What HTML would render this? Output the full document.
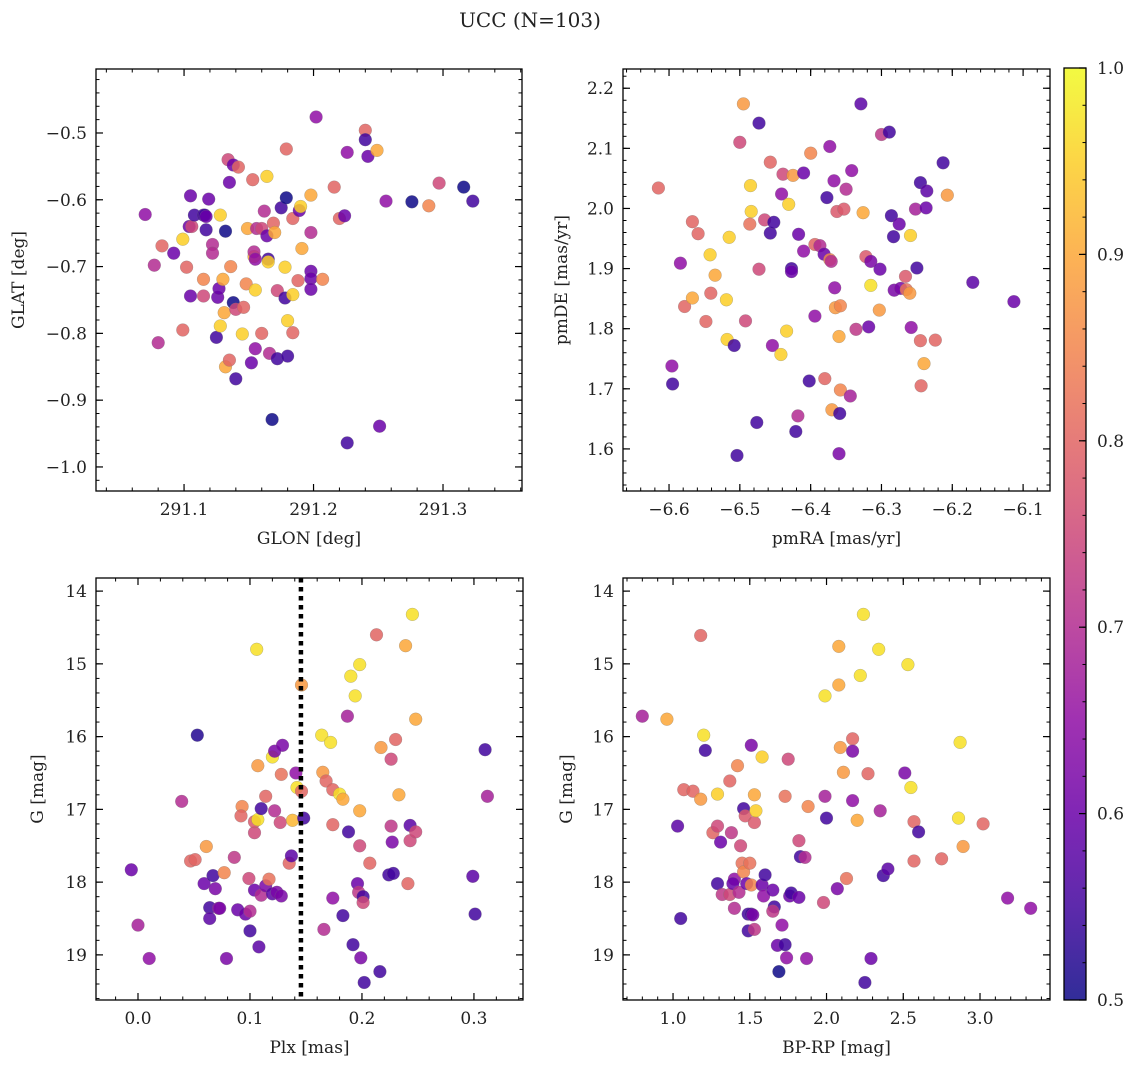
<!DOCTYPE html>
<html><head><meta charset="utf-8">
<style>
html,body{margin:0;padding:0;background:#fff;}
svg text{font-family:"DejaVu Serif","Liberation Serif",serif;fill:#222;}
</style></head>
<body>
<svg id="fig" width="1136" height="1068" viewBox="0 0 1136 1068" xmlns="http://www.w3.org/2000/svg">
<text x="530" y="27" font-size="20" text-anchor="middle">UCC (N=103)</text>
</svg>
<script>
const glonGlat = [
[291.070,-0.622,.65],[291.077,-0.698,.7],[291.080,-0.814,.7],[291.083,-0.669,.8],[291.092,-0.680,.6],[291.099,-0.659,.95],[291.099,-0.795,.8],[291.102,-0.701,.8],[291.105,-0.744,.6],[291.105,-0.594,.6],[291.104,-0.640,.6],[291.106,-0.640,.75],[291.108,-0.623,.55],[291.115,-0.623,.55],[291.116,-0.623,.55],[291.117,-0.625,.6],[291.117,-0.645,.55],[291.115,-0.719,.85],[291.115,-0.744,.75],[291.119,-0.599,.6],[291.122,-0.667,.7],[291.122,-0.680,.7],[291.125,-0.806,.55],[291.126,-0.746,.6],[291.127,-0.733,.6],[291.128,-0.623,.95],[291.128,-0.789,.95],[291.130,-0.719,.9],[291.131,-0.769,.9],[291.132,-0.850,.9],[291.135,-0.840,.8],[291.132,-0.647,.5],[291.134,-0.540,.75],[291.135,-0.574,.6],[291.138,-0.548,.6],[291.142,-0.551,.8],[291.136,-0.700,.85],[291.138,-0.754,.5],[291.140,-0.868,.55],[291.140,-0.764,.75],[291.146,-0.761,.8],[291.145,-0.801,.95],[291.148,-0.726,.85],[291.149,-0.643,.9],[291.152,-0.844,.6],[291.153,-0.570,.8],[291.154,-0.685,.9],[291.154,-0.678,.7],[291.155,-0.823,.65],[291.155,-0.689,.65],[291.155,-0.735,.95],[291.156,-0.643,.7],[291.160,-0.643,.75],[291.160,-0.800,.8],[291.162,-0.617,.7],[291.164,-0.654,.6],[291.164,-0.565,.95],[291.165,-0.689,.55],[291.165,-0.693,.95],[291.166,-0.830,.7],[291.168,-0.929,.5],[291.169,-0.635,.8],[291.170,-0.649,.9],[291.172,-0.736,.75],[291.172,-0.838,.55],[291.175,-0.612,.55],[291.178,-0.701,.95],[291.178,-0.747,.55],[291.179,-0.597,.5],[291.179,-0.524,.8],[291.180,-0.834,.55],[291.180,-0.781,.95],[291.184,-0.742,.95],[291.184,-0.628,.8],[291.184,-0.799,.8],[291.188,-0.721,.8],[291.189,-0.616,.6],[291.190,-0.610,.95],[291.191,-0.673,.9],[291.198,-0.593,.9],[291.198,-0.649,.7],[291.198,-0.707,.6],[291.198,-0.718,.6],[291.198,-0.734,.6],[291.202,-0.476,.65],[291.207,-0.719,.85],[291.216,-0.581,.8],[291.220,-0.628,.8],[291.224,-0.624,.6],[291.226,-0.964,.55],[291.226,-0.529,.65],[291.240,-0.496,.8],[291.240,-0.510,.55],[291.242,-0.535,.6],[291.249,-0.526,.9],[291.251,-0.939,.6],[291.256,-0.602,.65],[291.276,-0.603,.5],[291.289,-0.609,.85],[291.297,-0.575,.75],[291.316,-0.581,.5],[291.323,-0.602,.55]
];
const pmraPmde = [
[-6.615,2.034,.8],[-6.596,1.738,.65],[-6.595,1.708,.55],[-6.584,1.909,.65],[-6.578,1.837,.8],[-6.567,1.978,.8],[-6.567,1.851,.9],[-6.559,1.958,.8],[-6.548,1.812,.8],[-6.542,1.923,.95],[-6.541,1.859,.8],[-6.535,1.889,.9],[-6.519,1.848,.95],[-6.515,1.952,.95],[-6.518,1.782,.95],[-6.508,1.772,.55],[-6.504,1.589,.55],[-6.500,2.110,.75],[-6.495,2.174,.88],[-6.492,1.813,.75],[-6.485,2.038,.95],[-6.484,1.995,.95],[-6.486,1.974,.82],[-6.473,2.142,.55],[-6.476,1.644,.55],[-6.473,1.899,.75],[-6.465,1.981,.75],[-6.457,1.959,.55],[-6.452,1.977,.55],[-6.457,2.077,.8],[-6.454,1.772,.65],[-6.442,1.757,.95],[-6.441,2.024,.65],[-6.439,2.057,.75],[-6.434,1.796,.95],[-6.431,2.007,.95],[-6.425,2.055,.88],[-6.427,1.900,.55],[-6.427,1.895,.6],[-6.421,1.629,.55],[-6.417,1.957,.6],[-6.418,1.655,.7],[-6.410,2.059,.6],[-6.410,1.929,.65],[-6.402,1.713,.55],[-6.400,2.092,.85],[-6.394,1.821,.65],[-6.394,1.940,.8],[-6.387,1.938,.7],[-6.381,1.924,.6],[-6.380,1.717,.8],[-6.377,2.018,.55],[-6.373,2.103,.65],[-6.373,1.915,.85],[-6.371,1.912,.7],[-6.367,2.046,.65],[-6.366,1.868,.65],[-6.363,1.995,.78],[-6.365,1.835,.88],[-6.358,1.838,.85],[-6.360,1.787,.9],[-6.358,1.698,.85],[-6.370,1.665,.88],[-6.359,1.659,.55],[-6.360,1.592,.62],[-6.353,1.999,.78],[-6.350,2.032,.7],[-6.344,1.688,.68],[-6.342,2.063,.65],[-6.336,1.799,.72],[-6.329,2.174,.58],[-6.326,1.993,.9],[-6.322,1.920,.78],[-6.318,1.803,.6],[-6.315,1.912,.62],[-6.315,1.872,.97],[-6.303,1.831,.88],[-6.302,1.899,.6],[-6.300,2.123,.72],[-6.289,2.127,.55],[-6.286,1.988,.55],[-6.283,1.953,.55],[-6.282,1.864,.62],[-6.275,1.974,.6],[-6.273,1.867,.62],[-6.266,1.887,.78],[-6.265,1.865,.82],[-6.260,1.859,.88],[-6.259,1.955,.95],[-6.258,1.802,.65],[-6.252,1.999,.68],[-6.250,1.901,.55],[-6.245,2.043,.55],[-6.245,1.780,.8],[-6.244,1.705,.8],[-6.240,1.742,.9],[-6.237,2.001,.6],[-6.236,2.029,.58],[-6.224,1.781,.8],[-6.213,2.076,.55],[-6.207,2.022,.88],[-6.171,1.877,.58],[-6.113,1.845,.6]
];
const plxG = [
[-0.006,17.83,.6],[0.000,18.59,.68],[0.010,19.05,.65],[0.039,16.89,.7],[0.047,17.71,.8],[0.051,17.69,.8],[0.053,15.98,.52],[0.061,17.51,.88],[0.059,18.02,.6],[0.067,17.91,.55],[0.069,18.09,.62],[0.064,18.35,.55],[0.064,18.50,.58],[0.072,18.36,.65],[0.073,18.36,.62],[0.077,17.87,.85],[0.079,19.05,.62],[0.086,17.66,.72],[0.089,18.38,.6],[0.093,16.96,.85],[0.092,17.09,.8],[0.096,18.44,.6],[0.099,17.95,.75],[0.100,18.40,.7],[0.100,18.67,.55],[0.104,17.32,.75],[0.104,17.17,.78],[0.104,18.11,.6],[0.106,14.80,.97],[0.107,17.14,.97],[0.107,16.40,.88],[0.108,18.89,.58],[0.110,16.99,.55],[0.110,18.18,.7],[0.114,18.05,.62],[0.114,16.82,.8],[0.117,17.96,.82],[0.120,16.28,.97],[0.122,16.20,.62],[0.122,17.02,.7],[0.120,18.16,.58],[0.124,18.14,.62],[0.127,17.18,.75],[0.128,18.19,.62],[0.128,16.52,.82],[0.129,16.12,.62],[0.135,17.74,.8],[0.137,17.64,.58],[0.138,17.15,.92],[0.141,16.50,.65],[0.142,16.70,.97],[0.146,15.29,.88],[0.146,16.75,.8],[0.148,17.12,.55],[0.164,15.98,.97],[0.165,16.49,.88],[0.168,16.61,.8],[0.166,18.65,.7],[0.172,16.08,.97],[0.174,16.73,.8],[0.174,17.21,.8],[0.174,18.22,.65],[0.180,16.79,.97],[0.183,16.86,.9],[0.183,18.46,.55],[0.187,15.72,.68],[0.188,17.31,.55],[0.190,15.17,.97],[0.192,18.86,.55],[0.194,15.44,.97],[0.196,18.02,.6],[0.198,15.01,.97],[0.198,17.02,.9],[0.197,18.14,.72],[0.199,19.04,.62],[0.201,18.20,.55],[0.201,18.28,.75],[0.198,17.50,.75],[0.202,19.38,.55],[0.207,17.74,.8],[0.213,14.60,.8],[0.216,19.23,.55],[0.217,16.15,.88],[0.224,17.90,.55],[0.226,16.31,.75],[0.226,17.23,.72],[0.227,17.45,.62],[0.228,17.88,.55],[0.230,16.04,.8],[0.233,16.80,.9],[0.239,14.75,.9],[0.241,18.02,.8],[0.243,17.22,.58],[0.243,17.43,.75],[0.245,14.32,.97],[0.248,17.31,.75],[0.248,15.76,.9],[0.299,17.92,.58],[0.301,18.44,.55],[0.310,16.18,.55],[0.312,16.82,.68]
];
const bprpG = [
[0.80,15.72,.68],[0.96,15.76,.9],[1.03,17.23,.58],[1.05,18.50,.55],[1.07,16.73,.8],[1.13,16.75,.8],[1.18,16.86,.88],[1.18,14.61,.8],[1.20,15.98,.97],[1.21,16.19,.55],[1.26,17.32,.8],[1.29,18.02,.55],[1.29,16.79,.95],[1.29,17.23,.75],[1.31,17.45,.6],[1.32,18.17,.72],[1.37,18.17,.75],[1.37,16.61,.8],[1.38,17.32,.72],[1.40,17.96,.65],[1.40,18.36,.7],[1.39,18.02,.6],[1.42,16.40,.85],[1.43,18.14,.7],[1.44,17.50,.75],[1.45,17.74,.82],[1.46,16.99,.55],[1.47,17.09,.78],[1.46,17.86,.85],[1.48,18.02,.6],[1.49,18.44,.55],[1.49,18.67,.55],[1.50,17.74,.82],[1.51,18.04,.85],[1.51,18.44,.55],[1.52,18.45,.62],[1.53,18.65,.72],[1.51,16.12,.62],[1.53,17.18,.78],[1.53,16.80,.9],[1.54,17.02,.95],[1.58,16.28,.95],[1.58,18.04,.6],[1.59,18.19,.65],[1.60,17.90,.55],[1.65,18.11,.6],[1.66,18.34,.55],[1.65,18.40,.72],[1.71,18.59,.65],[1.68,18.87,.6],[1.73,18.86,.55],[1.69,19.23,.5],[1.74,19.04,.65],[1.73,16.82,.82],[1.75,16.31,.75],[1.76,18.19,.6],[1.77,18.15,.55],[1.82,18.21,.6],[1.82,17.43,.75],[1.83,17.65,.55],[1.86,17.66,.7],[1.87,19.05,.65],[1.88,16.96,.85],[1.98,18.28,.75],[1.99,15.44,.97],[1.99,16.82,.68],[2.00,17.12,.55],[2.07,18.09,.62],[2.08,14.76,.9],[2.08,15.29,.9],[2.09,16.15,.88],[2.11,16.49,.88],[2.13,17.95,.82],[2.17,16.03,.8],[2.17,16.20,.62],[2.17,16.88,.65],[2.20,17.15,.9],[2.22,15.16,.97],[2.24,14.32,.97],[2.25,19.38,.55],[2.27,16.51,.8],[2.29,19.05,.6],[2.34,14.80,.97],[2.35,17.02,.68],[2.37,17.91,.55],[2.40,17.82,.58],[2.51,16.50,.62],[2.53,15.01,.97],[2.55,16.70,.97],[2.57,17.17,.8],[2.57,17.71,.8],[2.60,17.31,.55],[2.75,17.68,.8],[2.86,17.12,.97],[2.87,16.08,.97],[2.89,17.51,.88],[3.02,17.20,.8],[3.18,18.22,.65],[3.33,18.36,.65]
];
const ticksTLx = [291.1,291.2,291.3];
const ticksTLy = [-0.5,-0.6,-0.7,-0.8,-0.9,-1.0];
const ticksTRx = [-6.6,-6.5,-6.4,-6.3,-6.2,-6.1];
const ticksTRy = [1.6,1.7,1.8,1.9,2.0,2.1,2.2];
const ticksBLx = [0.0,0.1,0.2,0.3];
const ticksGy = [14,15,16,17,18,19];
const ticksBRx = [1.0,1.5,2.0,2.5,3.0];
const cbTicks = [0.5,0.6,0.7,0.8,0.9,1.0];
const plxLine = 0.1455;

const NS = "http://www.w3.org/2000/svg";
const svg = document.getElementById('fig');
function el(tag, attrs, parent){ const e=document.createElementNS(NS,tag); for(const k in attrs) e.setAttribute(k,attrs[k]); (parent||svg).appendChild(e); return e; }

const stops=["#0d0887","#41049d","#6a00a8","#8f0da4","#b12a90","#cc4778","#e16462","#f2844b","#fca636","#fcce25","#f0f921"];
function hex(h){return [parseInt(h.substr(1,2),16),parseInt(h.substr(3,2),16),parseInt(h.substr(5,2),16)];}
function plasma(t){ t=Math.max(0,Math.min(1,t)); const f=t*10, i=Math.min(9,Math.floor(f)), r=f-i; const a=hex(stops[i]),b=hex(stops[i+1]); return 'rgb('+a.map((v,k)=>Math.round(v+(b[k]-v)*r)).join(',')+')'; }
function cmap(c){ return plasma((c-0.5)/0.5); }
function fmt(v,d){ const s=v.toFixed(d); return s.replace('-','\u2212'); }

function panel(p){
  const g=el('g',{});
  
  
  const sx=v=>p.x0+(v-p.xmin)/(p.xmax-p.xmin)*(p.x1-p.x0);
  const sy=p.invert ? (v=>p.y0+(v-p.ymin)/(p.ymax-p.ymin)*(p.y1-p.y0)) : (v=>p.y1-(v-p.ymin)/(p.ymax-p.ymin)*(p.y1-p.y0));
  const clip='clip-'+p.name;
  const cp=el('clipPath',{id:clip},g); el('rect',{x:p.x0,y:p.y0,width:p.x1-p.x0,height:p.y1-p.y0},cp);
  const pts=el('g',{'clip-path':'url(#'+clip+')'},g);
  
  
  p.data.forEach(d=>{
    const c=el('circle',{cx:sx(d[0]).toFixed(1),cy:sy(d[1]).toFixed(1),r:6.4,fill:cmap(d[2]),'fill-opacity':0.85,stroke:'#777','stroke-opacity':0.5,'stroke-width':0.5},pts);
    
    
  });
  if(p.vline!==undefined){
    const l=el('line',{x1:sx(p.vline),x2:sx(p.vline),y1:p.y0,y2:p.y1,stroke:'#000','stroke-width':4.5,'stroke-dasharray':'4.5,4.5'},g);
    
    
  }
  const eps=1e-9;
  for(let v=Math.ceil(p.xmin/p.xminor-eps)*p.xminor; v<=p.xmax+eps; v+=p.xminor){
    const x=sx(v); el('line',{x1:x,x2:x,y1:p.y1,y2:p.y1-3.5,stroke:'#000','stroke-width':1},g); el('line',{x1:x,x2:x,y1:p.y0,y2:p.y0+3.5,stroke:'#000','stroke-width':1},g);
  }
  for(let v=Math.ceil(p.ymin/p.yminor-eps)*p.yminor; v<=p.ymax+eps; v+=p.yminor){
    const y=sy(v); el('line',{x1:p.x0,x2:p.x0+3.5,y1:y,y2:y,stroke:'#000','stroke-width':1},g); el('line',{x1:p.x1,x2:p.x1-3.5,y1:y,y2:y,stroke:'#000','stroke-width':1},g);
  }
  p.xt.forEach(v=>{
    const x=sx(v); el('line',{x1:x,x2:x,y1:p.y1,y2:p.y1-7,stroke:'#000','stroke-width':1.2},g); el('line',{x1:x,x2:x,y1:p.y0,y2:p.y0+7,stroke:'#000','stroke-width':1.2},g);
    const t=el('text',{x:x,y:p.y1+24,'font-size':17,'text-anchor':'middle'},g); t.textContent=fmt(v,p.xd);
    
    
  });
  p.yt.forEach(v=>{
    const y=sy(v); el('line',{x1:p.x0,x2:p.x0+7,y1:y,y2:y,stroke:'#000','stroke-width':1.2},g); el('line',{x1:p.x1,x2:p.x1-7,y1:y,y2:y,stroke:'#000','stroke-width':1.2},g);
    const t=el('text',{x:p.x0-9,y:y+6,'font-size':17,'text-anchor':'end'},g); t.textContent=fmt(v,p.yd);
    
    
  });
  const fr=el('rect',{x:p.x0,y:p.y0,width:p.x1-p.x0,height:p.y1-p.y0,fill:'none',stroke:'#000','stroke-width':1.3},g);
  
  
  const xl=el('text',{x:(p.x0+p.x1)/2,y:p.y1+53,'font-size':17,'text-anchor':'middle'},g); xl.textContent=p.xlabel;
  
  
  const yx=p.ylx, yy=(p.y0+p.y1)/2;
  const yl=el('text',{x:yx,y:yy,'font-size':17,'text-anchor':'middle',transform:'rotate(-90 '+yx+' '+yy+')'},g); yl.textContent=p.ylabel;
  
  
}

panel({name:'glon-glat-panel',data:glonGlat,x0:96,x1:522,y0:69,y1:491,xmin:291.032,xmax:291.361,ymin:-1.036,ymax:-0.4042,xt:ticksTLx,yt:ticksTLy,xminor:0.02,yminor:0.02,xd:1,yd:1,xlabel:'GLON [deg]',ylabel:'GLAT [deg]',ylx:24});
panel({name:'pm-panel',data:pmraPmde,x0:623,x1:1050,y0:69,y1:491,xmin:-6.665,xmax:-6.062,ymin:1.530,ymax:2.232,xt:ticksTRx,yt:ticksTRy,xminor:0.02,yminor:0.02,xd:1,yd:1,xlabel:'pmRA [mas/yr]',ylabel:'pmDE [mas/yr]',ylx:567});
panel({name:'plx-g-panel',data:plxG,x0:96,x1:523,y0:578,y1:1000,xmin:-0.0375,xmax:0.3438,ymin:13.82,ymax:19.62,invert:true,xt:ticksBLx,yt:ticksGy,xminor:0.02,yminor:0.2,xd:1,yd:0,xlabel:'Plx [mas]',ylabel:'G [mag]',ylx:43,vline:plxLine});
panel({name:'cmd-panel',data:bprpG,x0:623,x1:1050,y0:578,y1:1000,xmin:0.674,xmax:3.456,ymin:13.82,ymax:19.62,invert:true,xt:ticksBRx,yt:ticksGy,xminor:0.1,yminor:0.2,xd:1,yd:0,xlabel:'BP-RP [mag]',ylabel:'G [mag]',ylx:572});

(function(){
  const x0=1064,x1=1086,y0=68,y1=1000;
  const cb=el('g',{});
  
  
  const defs=el('defs',{},cb);
  const lg=el('linearGradient',{id:'cbgrad',x1:0,y1:1,x2:0,y2:0},defs);
  for(let i=0;i<=20;i++){ el('stop',{offset:(i/20),'stop-color':plasma(i/20),'stop-opacity':0.85},lg); }
  el('rect',{x:x0,y:y0,width:x1-x0,height:y1-y0,fill:'url(#cbgrad)'},cb);
  const sy=v=>y1-(v-0.5)/0.5*(y1-y0);
  for(let v=0.5; v<=1.0001; v+=0.02){ const y=sy(v); el('line',{x1:x1,x2:x1-3.5,y1:y,y2:y,stroke:'#000','stroke-width':1},cb); }
  cbTicks.forEach(v=>{ const y=sy(v); el('line',{x1:x1,x2:x1-7,y1:y,y2:y,stroke:'#000','stroke-width':1.2},cb);
    const t=el('text',{x:x1+11,y:y+6,'font-size':17},cb); t.textContent=v.toFixed(1);
    
    
  });
  el('rect',{x:x0,y:y0,width:x1-x0,height:y1-y0,fill:'none',stroke:'#000','stroke-width':1.3},cb);
})();
</script>
</body></html>
